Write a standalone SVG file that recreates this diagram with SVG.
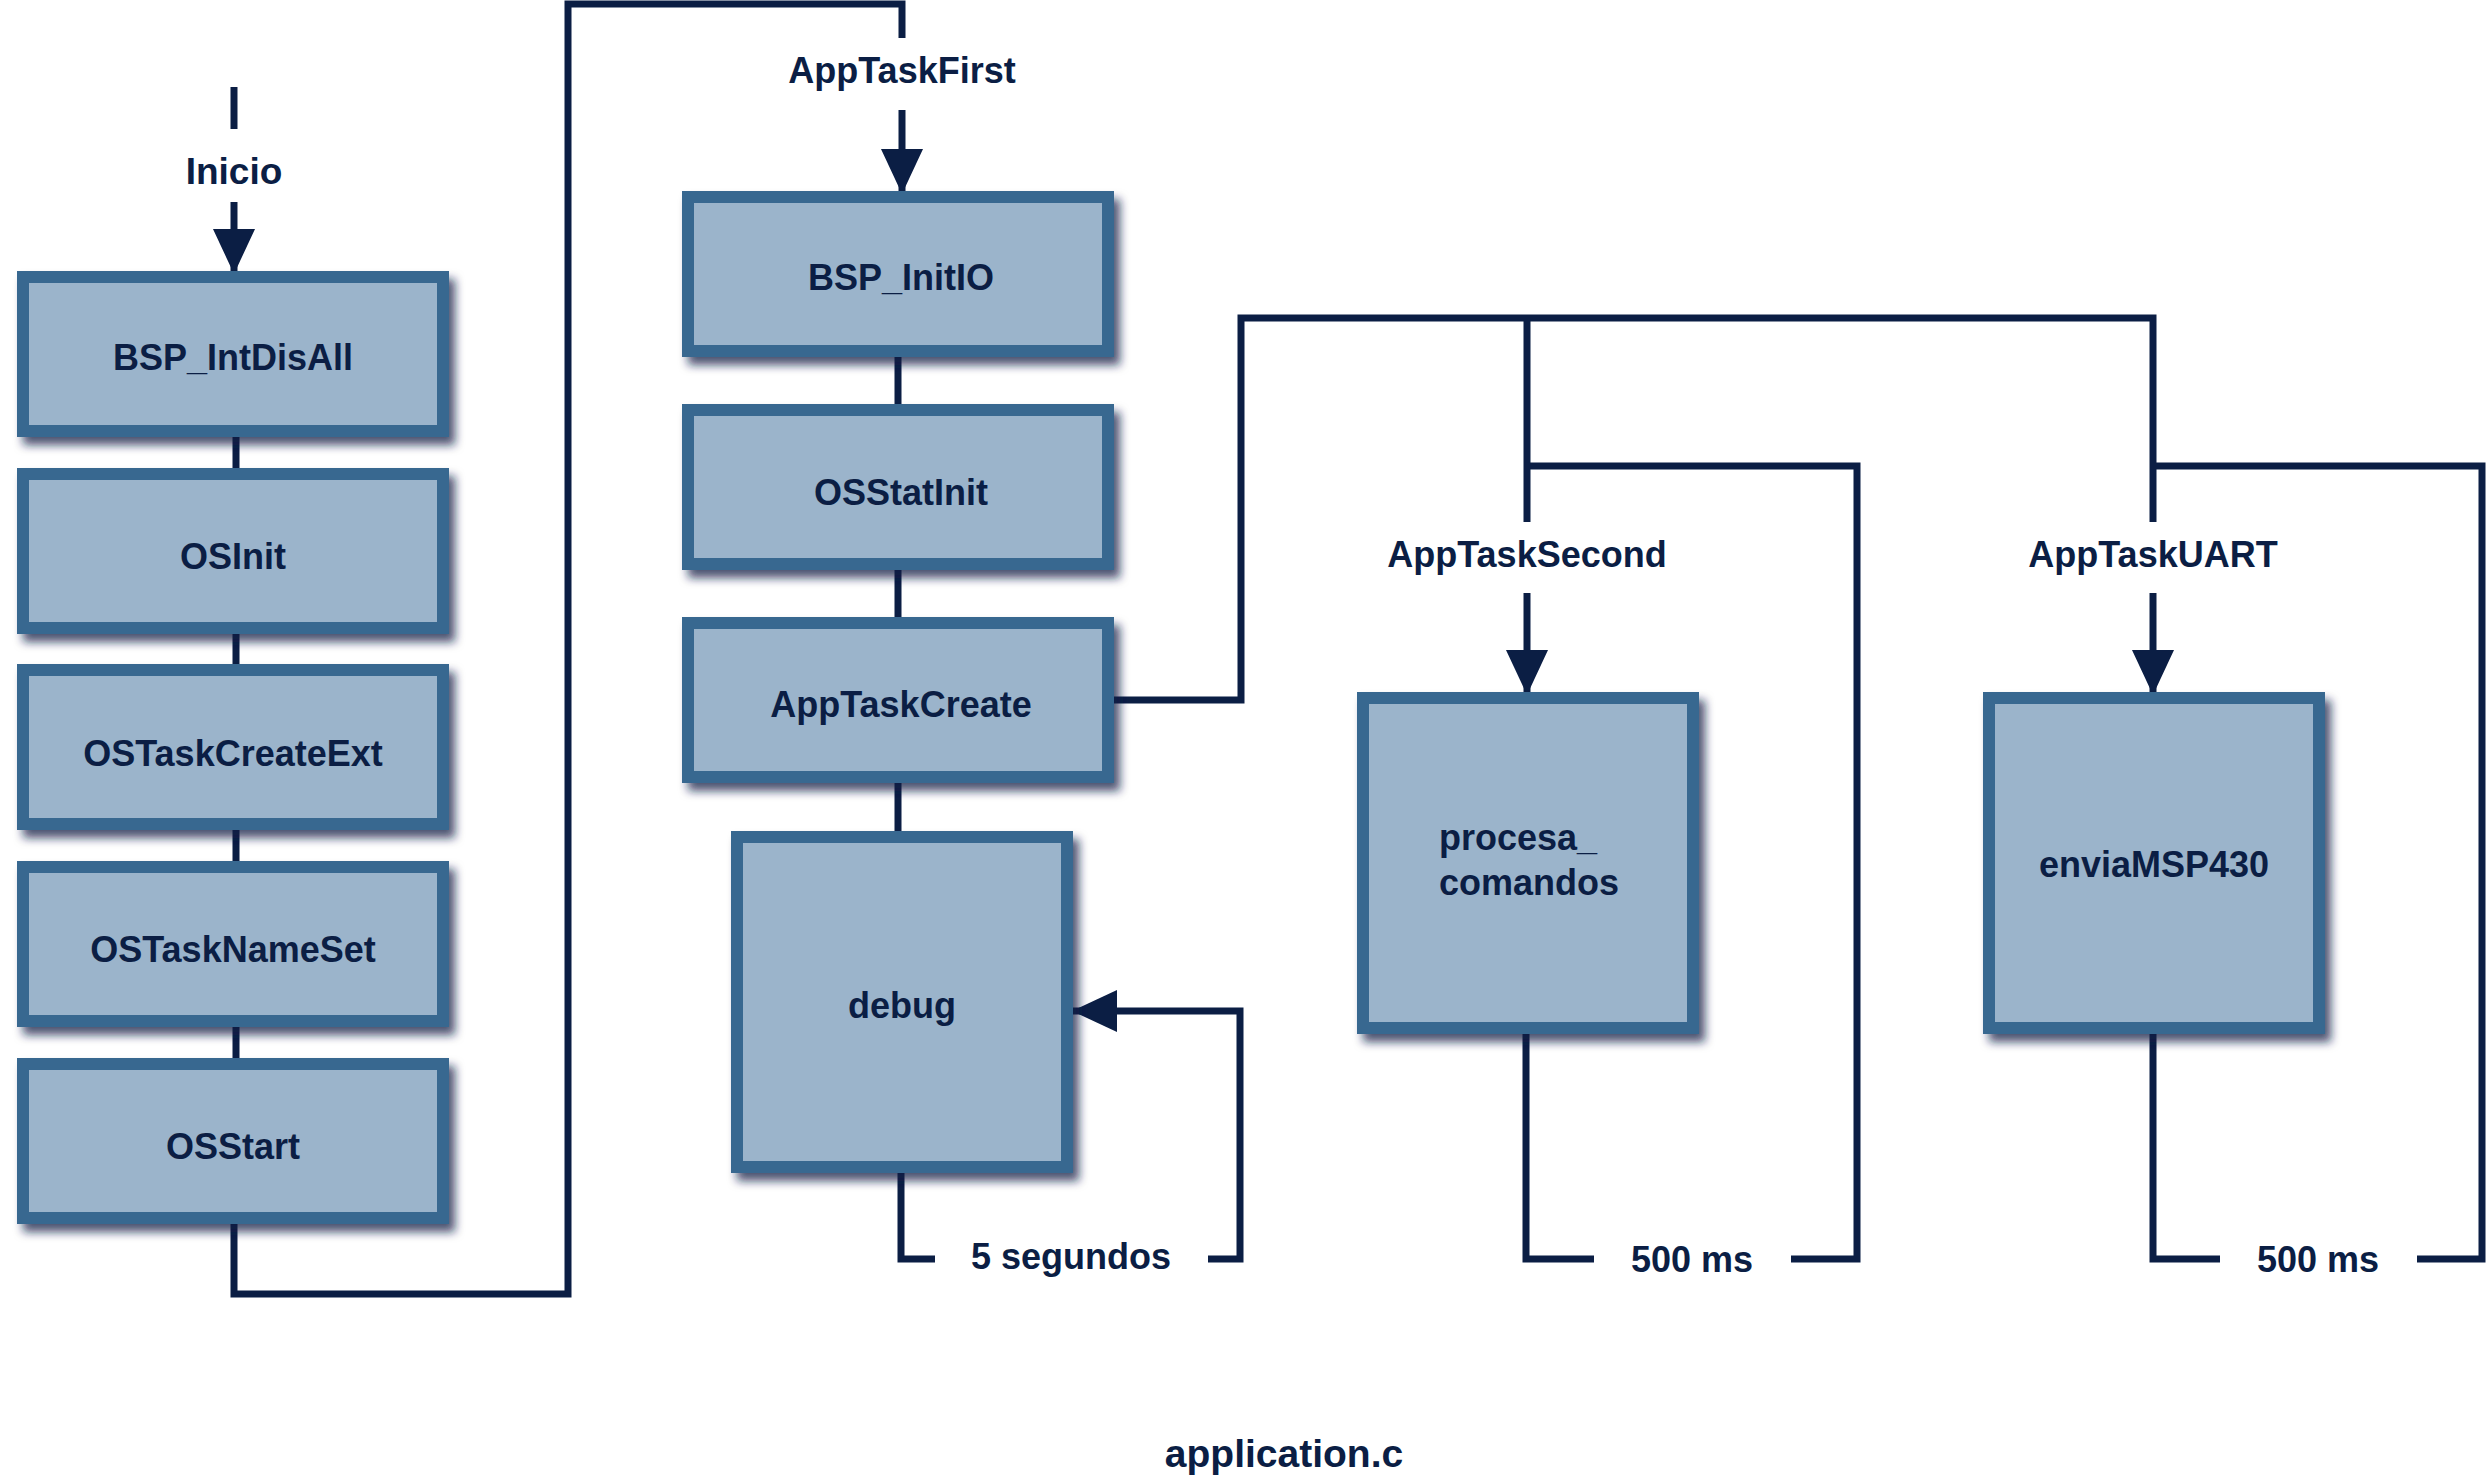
<svg xmlns="http://www.w3.org/2000/svg" width="2487" height="1477" viewBox="0 0 2487 1477">
<style>
.box{fill:#9bb4cb;stroke:#386890;stroke-width:12;filter:url(#sh)}
.t{font-family:"Liberation Sans",Arial,sans-serif;font-weight:bold;font-size:36px;fill:#0b1e44;text-anchor:middle}
.c{fill:none;stroke:#0b1e44;stroke-width:7;stroke-linejoin:miter;stroke-linecap:butt}
</style>
<defs>
<filter id="sh" x="-10%" y="-10%" width="130%" height="130%">
<feDropShadow dx="6" dy="8" stdDeviation="5" flood-color="#0b1e44" flood-opacity="0.75"/>
</filter>
<marker id="ah" viewBox="0 0 45 42" refX="44" refY="21" markerWidth="45" markerHeight="42" markerUnits="userSpaceOnUse" orient="auto">
<path d="M0,0 L45,21 L0,42 Z" fill="#0b1e44"/>
</marker>
</defs>
<rect width="2487" height="1477" fill="#ffffff"/>

<g id="connectors">
<path class="c" d="M234,87 V129"/>
<path class="c" d="M234,202 V273" marker-end="url(#ah)"/>
<path class="c" d="M236,437 V468 M236,634 V664 M236,830 V861 M236,1027 V1058"/>
<path class="c" d="M234,1224 V1294 H568 V4 H902 V38"/>
<path class="c" d="M902,110 V193" marker-end="url(#ah)"/>
<path class="c" d="M898,357 V404 M898,570 V617 M898,783 V831"/>
<path class="c" d="M1109,700 H1241 V318 H2153 V522 M1527,318 V522"/>
<path class="c" d="M1527,466 H1857 V1259 H1791"/>
<path class="c" d="M2153,466 H2482 V1259 H2417"/>
<path class="c" d="M1527,593 V694" marker-end="url(#ah)"/>
<path class="c" d="M2153,593 V694" marker-end="url(#ah)"/>
<path class="c" d="M1526,1034 V1259 H1594"/>
<path class="c" d="M2153,1034 V1259 H2220"/>
<path class="c" d="M901,1173 V1259 H935"/>
<path class="c" d="M1208,1259 H1240 V1011 H1073" marker-end="url(#ah)"/>
<text class="t" x="234" y="184" style="font-size:37px">Inicio</text>
<text class="t" x="902" y="83">AppTaskFirst</text>
<text class="t" x="1527" y="567">AppTaskSecond</text>
<text class="t" x="2153" y="567">AppTaskUART</text>
<text class="t" x="1071" y="1269">5 segundos</text>
<text class="t" x="1692" y="1272">500 ms</text>
<text class="t" x="2318" y="1272">500 ms</text>
</g>

<g id="n-bsp-intdisall"><rect class="box" x="23" y="277" width="420" height="154"/><text class="t" x="233" y="370">BSP_IntDisAll</text></g>
<g id="n-osinit"><rect class="box" x="23" y="474" width="420" height="154"/><text class="t" x="233" y="569">OSInit</text></g>
<g id="n-ostaskcreateext"><rect class="box" x="23" y="670" width="420" height="154"/><text class="t" x="233" y="766">OSTaskCreateExt</text></g>
<g id="n-ostasknameset"><rect class="box" x="23" y="867" width="420" height="154"/><text class="t" x="233" y="962">OSTaskNameSet</text></g>
<g id="n-osstart"><rect class="box" x="23" y="1064" width="420" height="154"/><text class="t" x="233" y="1159">OSStart</text></g>

<g id="n-bsp-initio"><rect class="box" x="688" y="197" width="420" height="154"/><text class="t" x="901" y="290">BSP_InitIO</text></g>
<g id="n-osstatinit"><rect class="box" x="688" y="410" width="420" height="154"/><text class="t" x="901" y="505">OSStatInit</text></g>
<g id="n-apptaskcreate"><rect class="box" x="688" y="623" width="420" height="154"/><text class="t" x="901" y="717">AppTaskCreate</text></g>
<g id="n-debug"><rect class="box" x="737" y="837" width="330" height="330"/><text class="t" x="902" y="1018">debug</text></g>
<g id="n-procesa"><rect class="box" x="1363" y="698" width="330" height="330"/><text class="t" x="1439" y="850" style="text-anchor:start">procesa_</text><text class="t" x="1439" y="895" style="text-anchor:start">comandos</text></g>
<g id="n-envia"><rect class="box" x="1989" y="698" width="330" height="330"/><text class="t" x="2154" y="877">enviaMSP430</text></g>

<text class="t" x="1284" y="1467" style="font-size:39px">application.c</text>
</svg>
